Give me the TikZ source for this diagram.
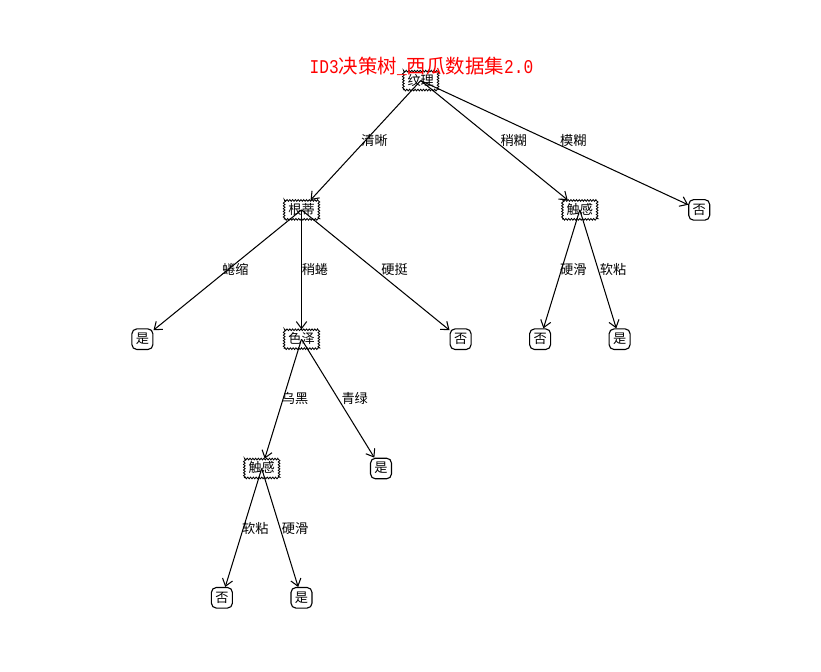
\documentclass[tikz,border=0pt]{standalone}
\usepackage{fontspec}
\setmainfont{Noto Sans CJK SC}
\newfontfamily\latinmono{Liberation Mono}[FakeStretch=0.833]
\usetikzlibrary{decorations.pathmorphing,arrows.meta,calc}
\tikzset{
  txt/.style={font=\fontsize{9.5}{11}\selectfont},
  decision/.style={txt, draw, fill=white, line width=0.6pt, decorate,
    decoration={zigzag, segment length=2pt, amplitude=0.6pt},
    inner xsep=3pt, inner ysep=1.8pt, text height=0.82em, text depth=0.18em},
  leaf/.style={txt, draw, fill=white, line width=0.8pt, rounded corners=3.5pt,
    inner xsep=2.8pt, inner ysep=2.4pt, text height=0.82em, text depth=0.18em},
  edge/.style={line width=0.75pt, -{Straight Barb[length=5pt,width=7.5pt]}},
  elabel/.style={txt, anchor=base west, inner sep=0pt}
}
\begin{document}
\begin{tikzpicture}[x=0.72pt,y=-0.72pt]
\useasboundingbox (0,0) rectangle (821,672);
% decision nodes
\node[decision] (root) at (420.7,80.6) {纹理};
\node[decision] (gd) at (301.5,209.9) {根蒂};
\node[decision] (chR) at (579.8,209.9) {触感};
\node[decision] (sz) at (301.5,339.2) {色泽};
\node[decision] (chL) at (261.7,468.5) {触感};
% leaves
\node[leaf] (l1) at (699.2,209.9) {否};
\node[leaf] (l2) at (142.4,339.2) {是};
\node[leaf] (l3) at (460.6,339.2) {否};
\node[leaf] (l4) at (540.1,339.2) {否};
\node[leaf] (l5) at (619.6,339.2) {是};
\node[leaf] (l6) at (381.0,468.5) {是};
\node[leaf] (l7) at (221.9,597.8) {否};
\node[leaf] (l8) at (301.5,597.8) {是};
% edges
\draw[edge] (root.center) -- (gd);
\draw[edge] (root.center) -- (chR);
\draw[edge] (root.center) -- (l1);
\draw[edge] (gd.center) -- (l2);
\draw[edge] (gd.center) -- (sz);
\draw[edge] (gd.center) -- (l3);
\draw[edge] (chR.center) -- (l4);
\draw[edge] (chR.center) -- (l5);
\draw[edge] (sz.center) -- (chL);
\draw[edge] (sz.center) -- (l6);
\draw[edge] (chL.center) -- (l7);
\draw[edge] (chL.center) -- (l8);
% edge labels
\node[elabel] (t1) at ($(root)!0.5!(gd)$) {清晰};
\node[elabel] (t2) at ($(root)!0.5!(chR)$) {稍糊};
\node[elabel] (t3) at ($(root)!0.5!(l1)$) {模糊};
\node[elabel] (t4) at ($(gd)!0.5!(l2)$) {蜷缩};
\node[elabel] (t5) at ($(gd)!0.5!(sz)$) {稍蜷};
\node[elabel] (t6) at ($(gd)!0.5!(l3)$) {硬挺};
\node[elabel] (t7) at ($(chR)!0.5!(l4)$) {硬滑};
\node[elabel] (t8) at ($(chR)!0.5!(l5)$) {软粘};
\node[elabel] (t9) at ($(sz)!0.5!(chL)$) {乌黑};
\node[elabel] (t10) at ($(sz)!0.5!(l6)$) {青绿};
\node[elabel] (t11) at ($(chL)!0.5!(l7)$) {软粘};
\node[elabel] (t12) at ($(chL)!0.5!(l8)$) {硬滑};
% title
\node[anchor=base, inner sep=0pt, text=red, font=\fontsize{14}{16}\selectfont] (title) at (421.5,73.5)
  {{\latinmono ID3}决策树{\latinmono \_}西瓜数据集{\latinmono 2.0}};
\end{tikzpicture}
\end{document}
